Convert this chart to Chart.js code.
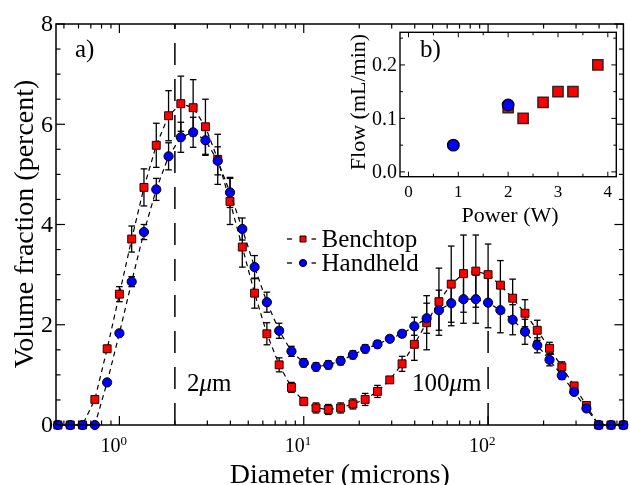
<!DOCTYPE html>
<html>
<head>
<meta charset="utf-8">
<script src="https://cdn.jsdelivr.net/npm/chart.js@4.4.1/dist/chart.umd.min.js"></script>
<style>
  html, body { margin: 0; padding: 0; background: #fff; }
  #wrap { position: relative; width: 630px; height: 485px; overflow: hidden; }
  #main { position: absolute; left: 0; top: 0; }
  #inset { position: absolute; left: 330px; top: 20px; }
</style>
</head>
<body>
<div id="wrap">
  <canvas id="main" width="630" height="485"></canvas>
  <canvas id="inset" width="295" height="210"></canvas>
</div>
<script>
// particle size bins (microns)
const diameters = [0.464, 0.541, 0.631, 0.736, 0.858, 1.0, 1.166, 1.359, 1.585, 1.848,
  2.154, 2.512, 2.929, 3.415, 3.981, 4.642, 5.412, 6.310, 7.356, 8.577,
  10.0, 11.66, 13.59, 15.85, 18.48, 21.54, 25.12, 29.29, 34.15, 39.81,
  46.42, 54.12, 63.10, 73.56, 85.77, 100.0, 116.6, 135.9, 158.5, 184.8,
  215.4, 251.2, 292.9, 341.5, 398.1, 464.2, 541.2];

const benchtop = [0, 0, 0, 0.51, 1.52, 2.61, 3.71, 4.74, 5.58, 6.17,
  6.41, 6.33, 5.95, 5.30, 4.46, 3.55, 2.63, 1.82, 1.20, 0.75,
  0.47, 0.34, 0.31, 0.34, 0.42, 0.51, 0.67, 0.90, 1.22, 1.61,
  2.04, 2.46, 2.81, 3.02, 3.07, 3.00, 2.79, 2.53, 2.23, 1.89,
  1.53, 1.16, 0.78, 0.39, 0, 0, 0];
const benchtopErr = [0, 0, 0, 0.03, 0.07, 0.15, 0.26, 0.37, 0.44, 0.5,
  0.55, 0.56, 0.55, 0.5, 0.46, 0.4, 0.3, 0.22, 0.14, 0.1,
  0.08, 0.1, 0.1, 0.1, 0.1, 0.12, 0.12, 0.06, 0.15, 0.32,
  0.54, 0.67, 0.76, 0.77, 0.72, 0.61, 0.49, 0.38, 0.27, 0.2,
  0.12, 0.1, 0.05, 0.03, 0, 0, 0];

const handheld = [0, 0, 0, 0, 0.85, 1.83, 2.86, 3.85, 4.70, 5.36,
  5.74, 5.84, 5.68, 5.27, 4.64, 3.91, 3.15, 2.45, 1.88, 1.47,
  1.24, 1.16, 1.20, 1.28, 1.40, 1.52, 1.61, 1.72, 1.82, 1.97,
  2.13, 2.29, 2.43, 2.51, 2.51, 2.44, 2.29, 2.10, 1.86, 1.59,
  1.30, 0.99, 0.66, 0.33, 0, 0, 0];
const handheldErr = [0, 0, 0, 0, 0.03, 0.06, 0.1, 0.15, 0.22, 0.27,
  0.3, 0.3, 0.3, 0.28, 0.3, 0.22, 0.23, 0.2, 0.15, 0.1,
  0.08, 0.08, 0.08, 0.08, 0.08, 0.08, 0.07, 0.05, 0.07, 0.18,
  0.3, 0.4, 0.45, 0.48, 0.48, 0.5, 0.45, 0.3, 0.25, 0.15,
  0.12, 0.08, 0.05, 0.03, 0, 0, 0];

const xTicks = [1, 10, 100];
const yTicks = [0, 2, 4, 6, 8];

// inset b): flow vs power
const benchPower = [2.0, 2.3, 2.7, 3.0, 3.3, 3.8];
const benchFlow = [0.12, 0.10, 0.13, 0.15, 0.15, 0.20];
const handPower = [0.9, 2.0];
const handFlow = [0.05, 0.125];
const insetXTicks = [0, 1, 2, 3, 4];
const insetYTicks = [0.0, 0.1, 0.2];

const serif = "'Liberation Serif', 'Times New Roman', serif";

function line(ctx, x1, y1, x2, y2) {
  ctx.beginPath(); ctx.moveTo(x1, y1); ctx.lineTo(x2, y2); ctx.stroke();
}

// inward ticks on all four sides
function boxTicks(ctx, a, xs, ys, xMaj, xMin, yMaj, yMin, big, small) {
  xMaj.concat(xMin).forEach((v, i) => {
    const len = i < xMaj.length ? big : small;
    const px = xs.getPixelForValue(v);
    if (px < a.left || px > a.right) return;
    line(ctx, px, a.bottom, px, a.bottom - len);
    line(ctx, px, a.top, px, a.top + len);
  });
  yMaj.concat(yMin).forEach((v, i) => {
    const len = i < yMaj.length ? big : small;
    const py = ys.getPixelForValue(v);
    if (py < a.top - 0.5 || py > a.bottom + 0.5) return;
    line(ctx, a.left, py, a.left + len, py);
    line(ctx, a.right, py, a.right - len, py);
  });
}

function muLabel(ctx, pre, x, y) {
  ctx.textAlign = 'left';
  ctx.textBaseline = 'alphabetic';
  ctx.font = `25px ${serif}`;
  ctx.fillText(pre, x, y);
  let w = ctx.measureText(pre).width;
  ctx.font = `italic 25px ${serif}`;
  ctx.fillText('\u03bc', x + w, y);
  w += ctx.measureText('\u03bc').width;
  ctx.font = `25px ${serif}`;
  ctx.fillText('m', x + w, y);
}

const mainDeco = {
  id: 'mainDeco',
  beforeDatasetsDraw(chart) {
    const { ctx, scales: { x, y } } = chart;
    ctx.save();
    ctx.strokeStyle = '#000';
    // 2 um and 100 um markers
    ctx.lineWidth = 1.5;
    ctx.setLineDash([22, 14]);
    line(ctx, x.getPixelForValue(2), y.getPixelForValue(0), x.getPixelForValue(2), y.getPixelForValue(8));
    line(ctx, x.getPixelForValue(100), y.getPixelForValue(0), x.getPixelForValue(100), y.getPixelForValue(2));
    ctx.setLineDash([]);
    // error bars
    ctx.lineWidth = 1.3;
    [[benchtop, benchtopErr], [handheld, handheldErr]].forEach(([vals, errs]) => {
      vals.forEach((v, i) => {
        const e = errs[i];
        if (!e) return;
        const px = x.getPixelForValue(diameters[i]);
        const y1 = y.getPixelForValue(v + e), y2 = y.getPixelForValue(v - e);
        line(ctx, px, y1, px, y2);
        line(ctx, px - 3.3, y1, px + 3.3, y1);
        line(ctx, px - 3.3, y2, px + 3.3, y2);
      });
    });
    ctx.restore();
  },
  afterDraw(chart) {
    const { ctx, chartArea: a, scales: { x, y } } = chart;
    ctx.save();
    ctx.strokeStyle = '#000';
    ctx.fillStyle = '#000';
    ctx.lineWidth = 1.5;
    ctx.strokeRect(a.left, a.top, a.right - a.left, a.bottom - a.top);

    const xMinor = [];
    [0.1, 1, 10, 100].forEach(d => { for (let m = 2; m <= 9; m++) xMinor.push(m * d); });
    const yMinor = [];
    for (let v = 0.5; v < 8; v += 0.5) if (v % 2) yMinor.push(v);
    ctx.lineWidth = 1.2;
    boxTicks(ctx, a, x, y, xTicks, xMinor, yTicks, yMinor, 9, 4.5);

    // tick labels
    xTicks.forEach(v => {
      const px = x.getPixelForValue(v);
      ctx.textBaseline = 'alphabetic';
      ctx.font = `20px ${serif}`;
      ctx.textAlign = 'right';
      ctx.fillText('10', px + 1, a.bottom + 27);
      ctx.font = `13px ${serif}`;
      ctx.textAlign = 'left';
      ctx.fillText(String(Math.round(Math.log10(v))), px + 1, a.bottom + 20);
    });
    ctx.font = `24px ${serif}`;
    ctx.textAlign = 'right';
    ctx.textBaseline = 'middle';
    yTicks.forEach(v => ctx.fillText(String(v), a.left - 3, y.getPixelForValue(v) + 1));

    // axis titles
    ctx.font = `28px ${serif}`;
    ctx.textAlign = 'center';
    ctx.textBaseline = 'alphabetic';
    ctx.fillText('Diameter (microns)', (a.left + a.right) / 2 + 0, 483);
    ctx.save();
    ctx.translate(33, 224);
    ctx.rotate(-Math.PI / 2);
    ctx.fillText('Volume fraction (percent)', 0, 0);
    ctx.restore();

    // panel label and annotations
    ctx.font = `25px ${serif}`;
    ctx.textAlign = 'left';
    ctx.fillText('a)', 75, 57);
    muLabel(ctx, '2', 187, 391);
    muLabel(ctx, '100', 412, 391);

    // legend
    const entries = [
      { label: 'Benchtop', y: 239, style: 'rect', color: '#ff0000' },
      { label: 'Handheld', y: 263, style: 'circle', color: '#0000ff' }
    ];
    entries.forEach(en => {
      ctx.lineWidth = 1.3;
      line(ctx, 287, en.y, 292, en.y);
      line(ctx, 311.5, en.y, 316, en.y);
      ctx.fillStyle = en.color;
      ctx.strokeStyle = '#000';
      ctx.lineWidth = 1;
      ctx.beginPath();
      if (en.style === 'rect') ctx.rect(300, en.y - 3, 6, 6);
      else ctx.arc(303, en.y, 3.6, 0, Math.PI * 2);
      ctx.fill(); ctx.stroke();
      ctx.fillStyle = '#000';
      ctx.font = `25px ${serif}`;
      ctx.textAlign = 'left';
      ctx.textBaseline = 'alphabetic';
      ctx.fillText(en.label, 321.5, en.y + 8);
    });
    ctx.restore();
  }
};

new Chart(document.getElementById('main'), {
  type: 'line',
  data: {
    datasets: [{
      label: 'Benchtop',
      data: diameters.map((d, i) => ({ x: d, y: benchtop[i] })),
      order: 2,
      borderColor: '#000',
      borderWidth: 1.2,
      borderDash: [5, 4],
      tension: 0,
      fill: false,
      clip: false,
      pointStyle: 'rect',
      pointRadius: 5.6,
      pointBackgroundColor: '#ff0000',
      pointBorderColor: '#2a0000',
      pointBorderWidth: 1
    }, {
      label: 'Handheld',
      data: diameters.map((d, i) => ({ x: d, y: handheld[i] })),
      order: 1,
      borderColor: '#000',
      borderWidth: 1.2,
      borderDash: [5, 4],
      tension: 0,
      fill: false,
      clip: false,
      pointStyle: 'circle',
      pointRadius: 4.6,
      pointBackgroundColor: '#0000ff',
      pointBorderColor: '#000',
      pointBorderWidth: 1
    }]
  },
  options: {
    responsive: false,
    animation: false,
    layout: { padding: { left: 56, right: 1.5, top: 24, bottom: 60 } },
    plugins: { legend: { display: false }, tooltip: { enabled: false } },
    scales: {
      x: { type: 'logarithmic', min: 0.453, max: 542, display: false },
      y: { type: 'linear', min: 0, max: 8, display: false }
    }
  },
  plugins: [mainDeco]
});

const insetDeco = {
  id: 'insetDeco',
  beforeDraw(chart) {
    const { ctx, chartArea: a } = chart;
    ctx.save();
    ctx.fillStyle = '#fff';
    ctx.fillRect(a.left, a.top, a.right - a.left, a.bottom - a.top);
    ctx.restore();
  },
  afterDraw(chart) {
    const { ctx, chartArea: a, scales: { x, y } } = chart;
    ctx.save();
    ctx.strokeStyle = '#000';
    ctx.fillStyle = '#000';
    ctx.lineWidth = 1.4;
    ctx.strokeRect(a.left, a.top, a.right - a.left, a.bottom - a.top);
    ctx.lineWidth = 1;
    boxTicks(ctx, a, x, y, insetXTicks, [0.5, 1.5, 2.5, 3.5], insetYTicks, [0.05, 0.15, 0.25], 5, 3);

    ctx.font = `17px ${serif}`;
    ctx.textAlign = 'center';
    ctx.textBaseline = 'alphabetic';
    insetXTicks.forEach(v => ctx.fillText(String(v), x.getPixelForValue(v), a.bottom + 20.5));
    ctx.font = `20px ${serif}`;
    ctx.textAlign = 'right';
    ctx.textBaseline = 'middle';
    insetYTicks.forEach(v => ctx.fillText(v.toFixed(1), a.left - 3, y.getPixelForValue(v) + 1));

    ctx.font = `22px ${serif}`;
    ctx.textAlign = 'center';
    ctx.textBaseline = 'alphabetic';
    ctx.fillText('Power (W)', 180, 201.7);
    ctx.save();
    ctx.translate(35, 82);
    ctx.rotate(-Math.PI / 2);
    ctx.fillText('Flow (mL/min)', 0, 0);
    ctx.restore();

    ctx.font = `25px ${serif}`;
    ctx.textAlign = 'left';
    ctx.fillText('b)', 90, 37);
    ctx.restore();
  }
};

new Chart(document.getElementById('inset'), {
  type: 'scatter',
  data: {
    datasets: [{
      label: 'Benchtop',
      data: benchPower.map((p, i) => ({ x: p, y: benchFlow[i] })),
      order: 2,
      pointStyle: 'rect',
      pointRadius: 7.2,
      pointBackgroundColor: '#ff0000',
      pointBorderColor: '#3a2020',
      pointBorderWidth: 1.5
    }, {
      label: 'Handheld',
      data: handPower.map((p, i) => ({ x: p, y: handFlow[i] })),
      order: 1,
      pointStyle: 'circle',
      pointRadius: 5.8,
      pointBackgroundColor: '#0000ff',
      pointBorderColor: '#000',
      pointBorderWidth: 1.3
    }]
  },
  options: {
    responsive: false,
    animation: false,
    layout: { padding: { left: 70, right: 7.3, top: 12.3, bottom: 53.3 } },
    plugins: { legend: { display: false }, tooltip: { enabled: false } },
    scales: {
      x: { type: 'linear', min: -0.17, max: 4.17, display: false },
      y: { type: 'linear', min: -0.009, max: 0.261, display: false }
    }
  },
  plugins: [insetDeco]
});
</script>
</body>
</html>
